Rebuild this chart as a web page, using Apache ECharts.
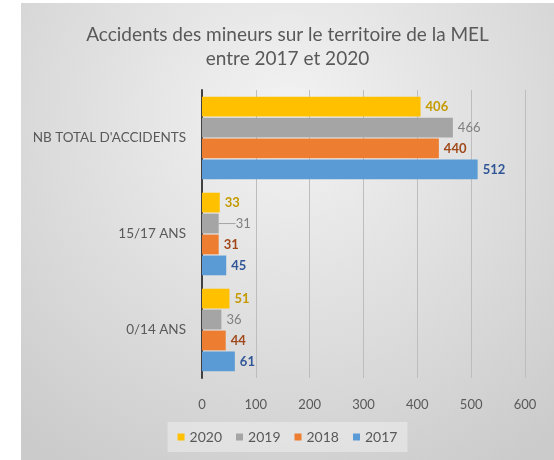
<!DOCTYPE html>
<html>
<head>
<meta charset="utf-8">
<script src="https://cdn.jsdelivr.net/npm/echarts@6/dist/echarts.min.js"></script>
<style>
  html, body { margin: 0; padding: 0; background: #fff; }
  #chart { position: absolute; left: 21px; top: 3px; width: 533px; height: 457px; }
</style>
</head>
<body>
<div id="chart"></div>
<script>
const categories = ['0/14 ANS', '15/17 ANS', "NB TOTAL D'ACCIDENTS"]
// first series is drawn on top inside each group
const years = ['2020', '2019', '2018', '2017']
const values2017 = [61, 45, 512]
const values2018 = [44, 31, 440]
const values2019 = [36, 31, 466]
const values2020 = [51, 33, 406]
const xTicks = [0, 100, 200, 300, 400, 500, 600]

const barColors = {'2017': '#5b9bd5', '2018': '#ed7d31', '2019': '#a5a5a5', '2020': '#ffc000'}
const labelColors = {'2017': '#2f5597', '2018': '#a0481a', '2019': '#7f7f7f', '2020': '#c49a00'}
const seriesValues = {'2017': values2017, '2018': values2018, '2019': values2019, '2020': values2020}

// the 15/17 ANS 2019 label sits a bit away with a leader line
const isMoved = (y, i) => y === '2019' && i === 1

const myChart = echarts.init(document.getElementById('chart'))

myChart.setOption({
  backgroundColor: new echarts.graphic.RadialGradient(0.5, 0.25, 0.9, [
    {offset: 0, color: '#f3f3f3'},
    {offset: 1, color: '#cbcbcb'}
  ]),
  textStyle: {fontFamily: 'Lato'},
  title: {
    text: 'Accidents des mineurs sur le territoire de la MEL\nentre 2017 et 2020',
    left: 'center',
    top: 15,
    textStyle: {
      color: '#595959',
      fontSize: 19,
      fontWeight: 'normal',
      lineHeight: 24,
      fontFamily: 'Lato'
    }
  },
  legend: {
    bottom: 8,
    left: 'center',
    itemWidth: 7,
    itemHeight: 7,
    itemGap: 14,
    padding: [8, 10],
    backgroundColor: 'rgba(255,255,255,0.35)',
    icon: 'rect',
    textStyle: {color: '#595959', fontSize: 14},
    data: ['2020', '2019', '2018', '2017']
  },
  grid: {
    left: 181,
    right: 29,
    top: 87,
    bottom: 82,
    containLabel: false
  },
  xAxis: {
    type: 'value',
    min: xTicks[0],
    max: xTicks[xTicks.length - 1],
    interval: 100,
    axisLine: {show: false},
    axisTick: {show: false},
    axisLabel: {color: '#595959', fontSize: 13, margin: 20},
    splitLine: {lineStyle: {color: '#bdbdbd', width: 1}}
  },
  yAxis: {
    type: 'category',
    data: categories,
    axisLine: {lineStyle: {color: '#404040', width: 2}},
    axisTick: {show: false},
    axisLabel: {color: '#595959', fontSize: 13.5, margin: 16}
  },
  series: years.map((y) => ({
    name: y,
    type: 'bar',
    data: seriesValues[y].map((v, i) => isMoved(y, i)
      ? {value: v, labelLine: {show: true, lineStyle: {color: '#a5a5a5', width: 1}}}
      : v),
    barGap: '6%',
    barCategoryGap: '14%',
    itemStyle: {color: barColors[y]},
    label: {
      show: true,
      position: 'right',
      distance: 5,
      color: labelColors[y],
      fontSize: 13,
      fontWeight: y === '2019' ? 'normal' : 'bold'
    },
    labelLayout: (params) => isMoved(y, params.dataIndex) ? {dx: 12} : {}
  }))
})
</script>
</body>
</html>
